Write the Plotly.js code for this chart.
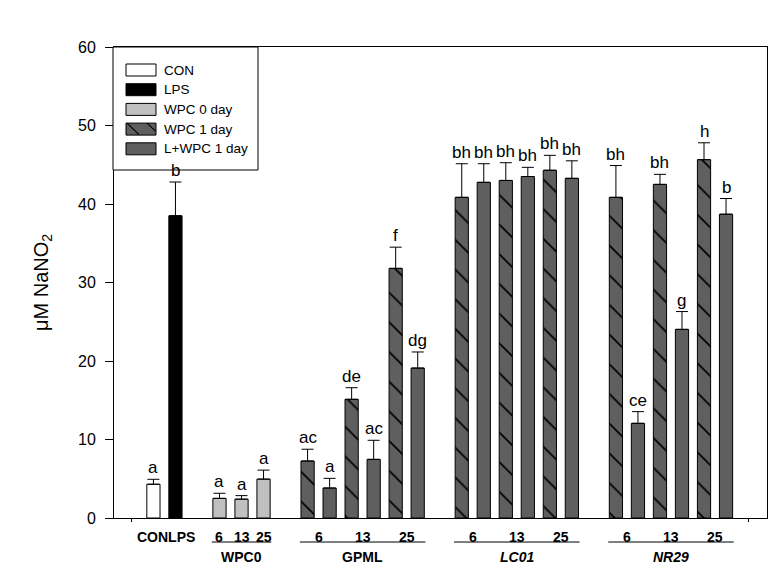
<!DOCTYPE html>
<html>
<head>
<meta charset="utf-8">
<script src="https://cdn.plot.ly/plotly-3.0.1.min.js"></script>
<style>html,body{margin:0;padding:0;background:#fff}#chart{width:775px;height:567px}</style>
</head>
<body>
<div id="chart"></div>
<script>
// ---- data ----
const controlNames = ['CON', 'LPS'];
const groupNames = ['WPC0', 'GPML', 'LC01', 'NR29'];
const doses = ['6', '13', '25'];
const legendNames = ['CON', 'LPS', 'WPC 0 day', 'WPC 1 day', 'L+WPC 1 day'];

const conVal = [4.3];
const conErr = [0.63];
const conLetters = ['a'];

const lpsVal = [38.5];
const lpsErr = [4.3];
const lpsLetters = ['b'];

const wpc0Val = [2.5, 2.4, 4.95];
const wpc0Err = [0.65, 0.45, 1.15];
const wpc0Letters = ['a', 'a', 'a'];

// WPC 1 day: GPML 6,13,25 | LC01 6,13,25 | NR29 6,13,25
const wpc1Val = [7.26, 15.12, 31.8, 40.85, 43.0, 44.3, 40.85, 42.5, 45.65];
const wpc1Err = [1.5, 1.48, 2.7, 4.28, 2.26, 1.9, 4.05, 1.28, 2.15];
const wpc1Letters = ['ac', 'de', 'f', 'bh', 'bh', 'bh', 'bh', 'bh', 'h'];

// L+WPC 1 day
const lwpcVal = [3.82, 7.47, 19.1, 42.76, 43.5, 43.27, 12.06, 24.03, 38.7];
const lwpcErr = [1.23, 2.43, 2.05, 2.37, 1.17, 2.23, 1.49, 2.27, 2.0];
const lwpcLetters = ['a', 'ac', 'dg', 'bh', 'bh', 'bh', 'ce', 'g', 'b'];

// ---- slot layout (derived from group structure) ----
let slot = 1;
const conX = [slot++];
const lpsX = [slot++];
slot++;
const wpc0X = doses.map(() => slot++);
slot++;
const wpc1X = [], lwpcX = [], groupSpans = [[wpc0X[0], wpc0X[2]]], doseCenters = [...wpc0X];
for (let g = 1; g < groupNames.length; g++) {
  const start = slot;
  doses.forEach(() => {
    wpc1X.push(slot); lwpcX.push(slot + 1);
    doseCenters.push(slot + 0.5);
    slot += 2;
  });
  groupSpans.push([start, slot - 1]);
  slot++;
}

const FONT = 'Liberation Sans, Arial, sans-serif';
const COL = {con: '#ffffff', lps: '#000000', wpc0: '#c0c0c0', wpc1: '#5f5f5f', lwpc: '#5f5f5f'};
const outline = {color: '#000', width: 1};
const BW = 0.6;

function errs(arr) {
  return {type: 'data', symmetric: false, array: arr, arrayminus: arr.map(() => 0),
          color: '#000', thickness: 1, width: 6};
}

const traces = [
  {type: 'bar', x: conX, y: conVal, width: BW, error_y: errs(conErr),
   marker: {color: COL.con, line: outline}, showlegend: false, hoverinfo: 'none'},
  {type: 'bar', x: lpsX, y: lpsVal, width: BW, error_y: errs(lpsErr),
   marker: {color: COL.lps, line: outline}, showlegend: false, hoverinfo: 'none'},
  {type: 'bar', x: wpc0X, y: wpc0Val, width: BW, error_y: errs(wpc0Err),
   marker: {color: COL.wpc0, line: outline}, showlegend: false, hoverinfo: 'none'},
  {type: 'bar', x: wpc1X, y: wpc1Val, width: BW, error_y: errs(wpc1Err),
   marker: {color: COL.wpc1, line: outline,
            pattern: {shape: '\\', fgcolor: '#000', bgcolor: COL.wpc1, size: 21, solidity: 0.08, fillmode: 'replace'}},
   showlegend: false, hoverinfo: 'none'},
  {type: 'bar', x: lwpcX, y: lwpcVal, width: BW, error_y: errs(lwpcErr),
   marker: {color: COL.lwpc, line: outline}, showlegend: false, hoverinfo: 'none'}
];

const annotations = [];
function letters(xs, vals, es, labs) {
  xs.forEach((x, i) => annotations.push({
    x: x, y: vals[i] + es[i], xref: 'x', yref: 'y', text: labs[i], showarrow: false,
    yanchor: 'bottom', yshift: 0, font: {family: FONT, size: 17, color: '#000'}
  }));
}
letters(conX, conVal, conErr, conLetters);
letters(lpsX, lpsVal, lpsErr, lpsLetters);
letters(wpc0X, wpc0Val, wpc0Err, wpc0Letters);
letters(wpc1X, wpc1Val, wpc1Err, wpc1Letters);
letters(lwpcX, lwpcVal, lwpcErr, lwpcLetters);

// x-axis labels
const ROW1 = -0.0403, ROW2 = -0.083, ULINE = -0.051;
annotations.push({x: (conX[0] + lpsX[0]) / 2 + 0.08, y: ROW1, xref: 'x', yref: 'paper', text: '<b>' + controlNames.join('') + '</b>',
  showarrow: false, yanchor: 'middle', font: {family: FONT, size: 14, color: '#000'}});
doseCenters.forEach((x, i) => annotations.push({x: x, y: ROW1, xref: 'x', yref: 'paper',
  text: '<b>' + doses[i % 3] + '</b>', showarrow: false, yanchor: 'middle',
  font: {family: FONT, size: 14, color: '#000'}}));
const shapes = [];
groupNames.forEach((g, i) => {
  const [a, b] = groupSpans[i];
  const italic = (g === 'LC01' || g === 'NR29');
  annotations.push({x: (a + b) / 2, y: ROW2, xref: 'x', yref: 'paper',
    text: italic ? '<b><i>' + g + '</i></b>' : '<b>' + g + '</b>', showarrow: false, yanchor: 'middle',
    font: {family: FONT, size: 14, color: '#000'}});
  shapes.push({type: 'line', xref: 'x', yref: 'paper', x0: a - 0.35, x1: b + 0.35, y0: ULINE, y1: ULINE,
    line: {color: '#000', width: 1}});
});

// custom legend (pixel positions -> paper)
const L = 114, W = 653, B = 518, H = 471;
const px = v => (v - L) / W, py = v => (B - v) / H;
shapes.push({type: 'rect', xref: 'paper', yref: 'paper', x0: px(113), x1: px(258), y0: py(170), y1: py(47),
  line: {color: '#000', width: 1}, fillcolor: '#fff', layer: 'above'});
const legColors = [COL.con, COL.lps, COL.wpc0, COL.wpc1, COL.lwpc];
legendNames.forEach((n, i) => {
  const yc = 70 + i * 19.7;
  shapes.push({type: 'rect', xref: 'paper', yref: 'paper', x0: px(126), x1: px(156), y0: py(yc + 6), y1: py(yc - 6),
    line: {color: '#000', width: 1}, fillcolor: legColors[i], layer: 'above'});
  if (n === 'WPC 1 day') {
    shapes.push({type: 'line', xref: 'paper', yref: 'paper', x0: px(127), y0: py(yc - 6), x1: px(139), y1: py(yc + 5.5),
      line: {color: '#000', width: 1.2}, layer: 'above'});
    shapes.push({type: 'line', xref: 'paper', yref: 'paper', x0: px(147), y0: py(yc - 6), x1: px(155.5), y1: py(yc + 2),
      line: {color: '#000', width: 1.2}, layer: 'above'});
  }
  annotations.push({x: px(162), y: py(yc), xref: 'paper', yref: 'paper', text: n, showarrow: false,
    xanchor: 'left', yanchor: 'middle', font: {family: FONT, size: 13.5, color: '#000'}});
});

const layout = {
  width: 775, height: 567,
  margin: {l: 114, r: 8, t: 47, b: 49},
  paper_bgcolor: '#fff', plot_bgcolor: '#fff',
  showlegend: false,
  font: {family: FONT, color: '#000'},
  xaxis: {range: [-0.79, 28.86], showgrid: false, zeroline: false, showline: true, mirror: true,
          linecolor: '#000', linewidth: 1, tickmode: 'array', tickvals: [0, 28], showticklabels: false,
          ticks: 'outside', ticklen: 3, tickcolor: '#000'},
  yaxis: {range: [0, 60], dtick: 10, tick0: 0, showgrid: false, zeroline: false, showline: true, mirror: true,
          linecolor: '#000', linewidth: 1, ticks: 'outside', ticklen: 8, tickcolor: '#000',
          tickfont: {family: FONT, size: 16, color: '#000'}, ticklabelstandoff: 6,
          title: {text: 'μM NaNO<sub>2</sub>', font: {family: FONT, size: 20, color: '#000'}, standoff: 24}},
  bargap: 0,
  annotations: annotations,
  shapes: shapes
};

Plotly.newPlot('chart', traces, layout, {staticPlot: true, displayModeBar: false});
</script>
</body>
</html>
